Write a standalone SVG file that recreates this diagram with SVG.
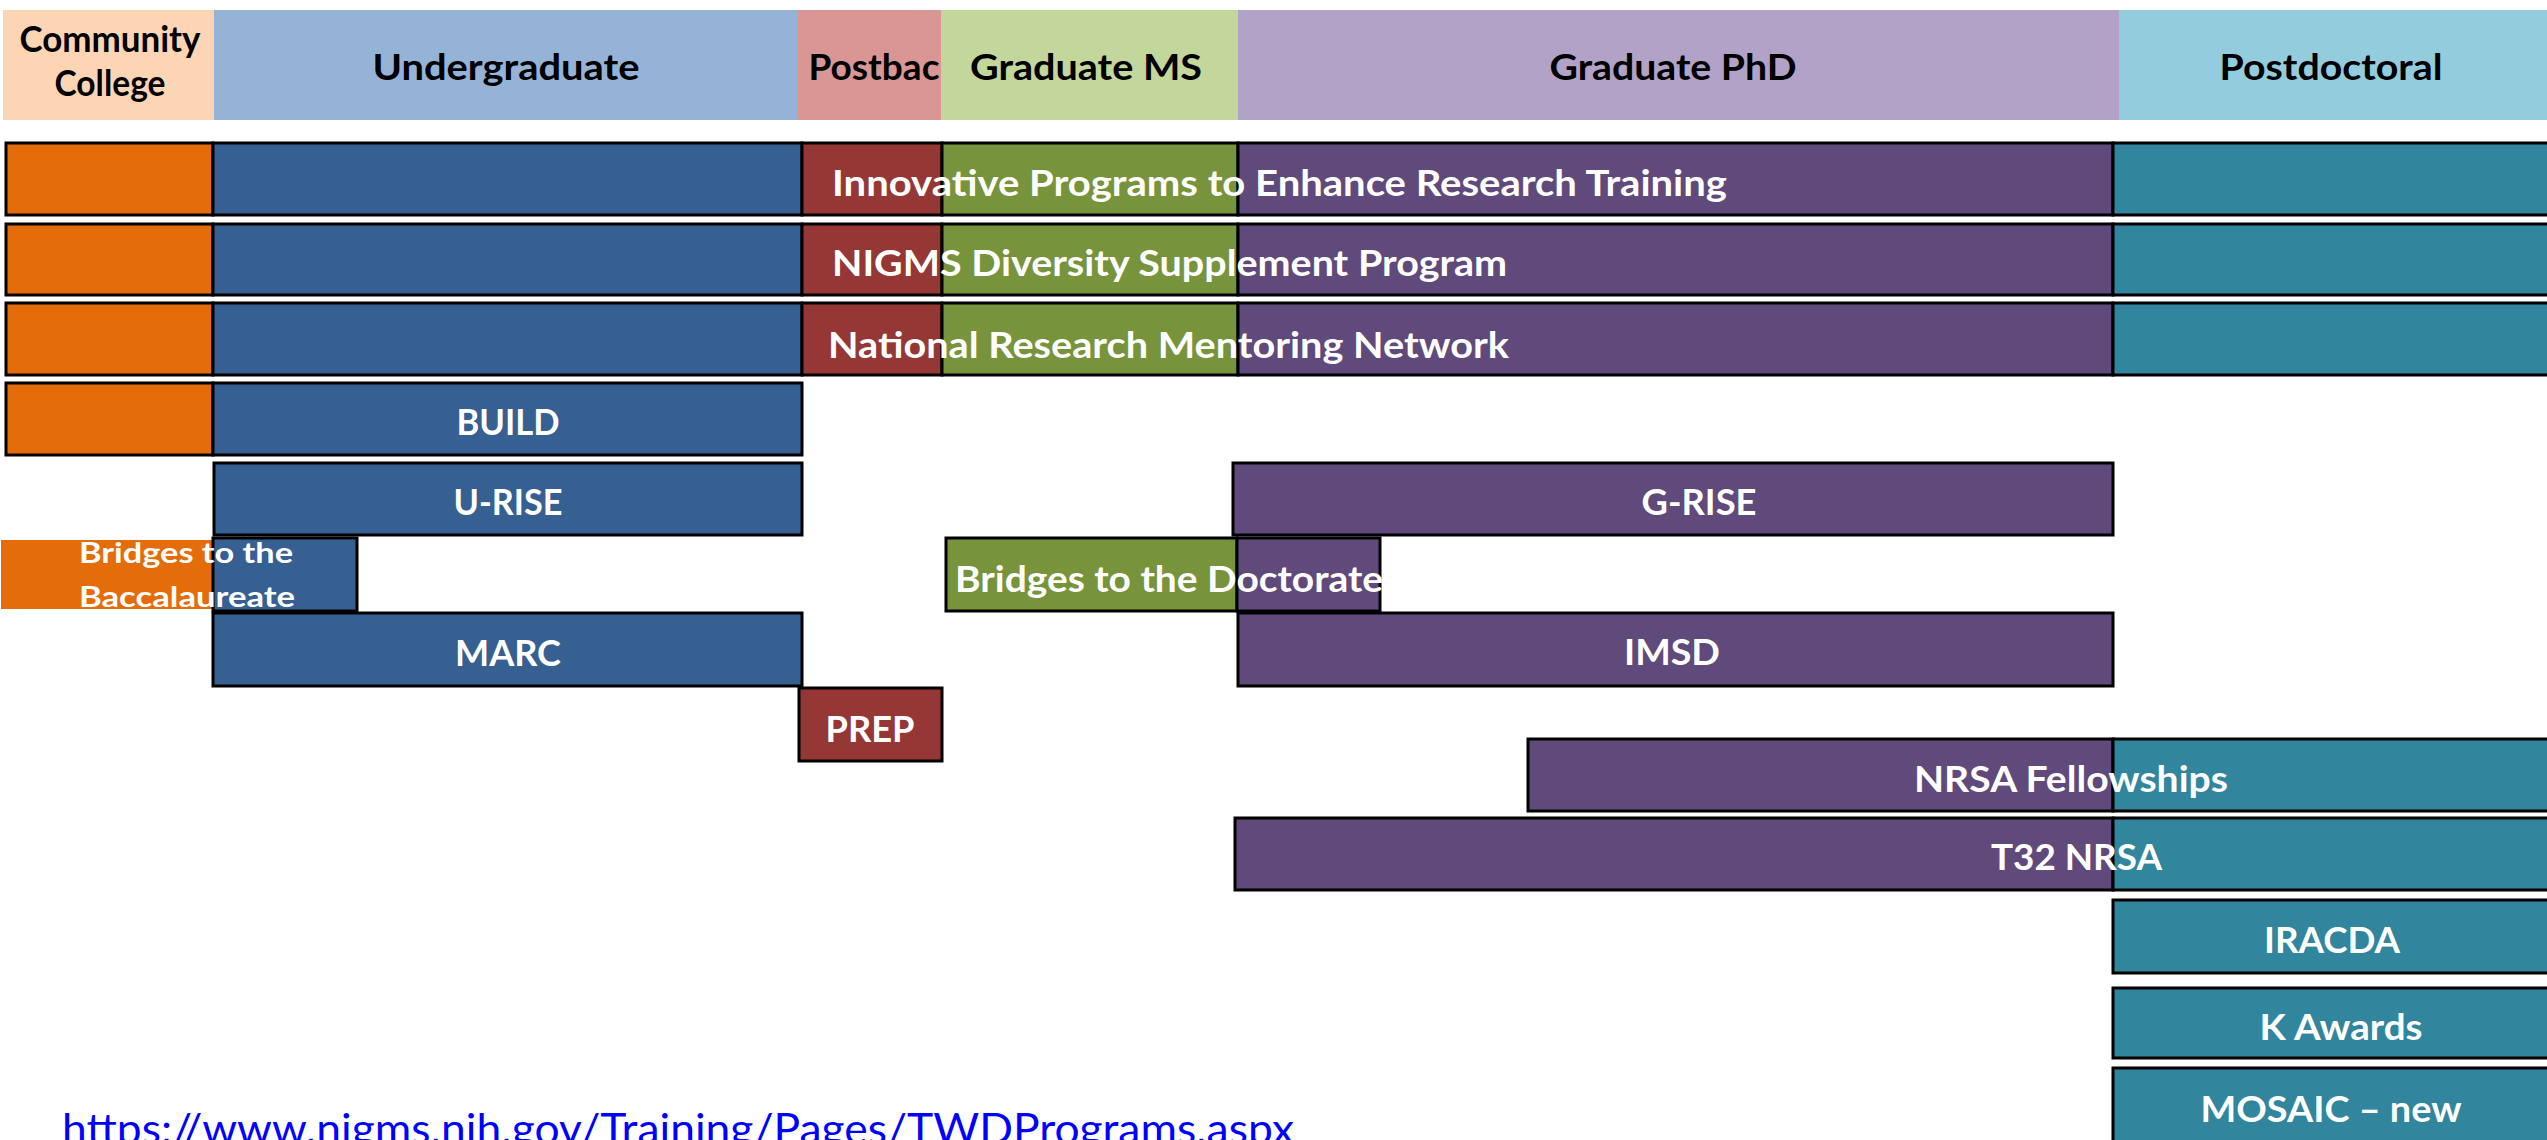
<svg xmlns="http://www.w3.org/2000/svg" width="2547" height="1140" viewBox="0 0 2547 1140">
<style>
.hd{font-family:Lato,"Liberation Sans",sans-serif;font-weight:bold;font-size:37px;fill:#000;text-anchor:middle}
.lb{font-family:Lato,"Liberation Sans",sans-serif;font-weight:bold;font-size:36px;fill:#fff}
.c{text-anchor:middle}
.sm{font-size:28px}
.bar{stroke:#000;stroke-width:3}
.or{fill:#E46C0A}.bl{fill:#376092}.rd{fill:#953735}.gr{fill:#77933C}.pu{fill:#604A7B}.te{fill:#31859C}
.url{font-family:Lato,"Liberation Sans",sans-serif;font-size:42px;fill:#0000FF}
</style>
<rect width="2547" height="1140" fill="#fff"/>
<g id="header">
<g id="h-cc"><rect x="3" y="10" width="211" height="110" fill="#FCD5B5"/><text class="hd" x="110" y="52" textLength="181" lengthAdjust="spacingAndGlyphs">Community</text><text class="hd" x="110" y="96" textLength="111" lengthAdjust="spacingAndGlyphs">College</text></g>
<g id="h-ug"><rect x="214" y="10" width="584" height="110" fill="#95B3D7"/><text class="hd" x="506" y="80" textLength="267" lengthAdjust="spacingAndGlyphs">Undergraduate</text></g>
<g id="h-pb"><rect x="798" y="10" width="143" height="110" fill="#D99694"/><text class="hd" x="874" y="80" textLength="131" lengthAdjust="spacingAndGlyphs">Postbac</text></g>
<g id="h-ms"><rect x="941" y="10" width="297" height="110" fill="#C3D69B"/><text class="hd" x="1086" y="80" textLength="232" lengthAdjust="spacingAndGlyphs">Graduate MS</text></g>
<g id="h-phd"><rect x="1238" y="10" width="881" height="110" fill="#B2A2C7"/><text class="hd" x="1673" y="80" textLength="247" lengthAdjust="spacingAndGlyphs">Graduate PhD</text></g>
<g id="h-pd"><rect x="2119" y="10" width="430" height="110" fill="#93CDDD"/><text class="hd" x="2331" y="80" textLength="223" lengthAdjust="spacingAndGlyphs">Postdoctoral</text></g>
</g>
<g id="innovative">
<rect class="bar or" x="6" y="143" width="207" height="72"/><rect class="bar bl" x="213" y="143" width="589" height="72"/><rect class="bar rd" x="802" y="143" width="140" height="72"/><rect class="bar gr" x="942" y="143" width="296" height="72"/><rect class="bar pu" x="1238" y="143" width="875" height="72"/><rect class="bar te" x="2113" y="143" width="450" height="72"/>
<text class="lb" x="832" y="196" textLength="895" lengthAdjust="spacingAndGlyphs">Innovative Programs to Enhance Research Training</text>
</g>
<g id="nigms">
<rect class="bar or" x="6" y="224" width="207" height="71"/><rect class="bar bl" x="213" y="224" width="589" height="71"/><rect class="bar rd" x="802" y="224" width="140" height="71"/><rect class="bar gr" x="942" y="224" width="296" height="71"/><rect class="bar pu" x="1238" y="224" width="875" height="71"/><rect class="bar te" x="2113" y="224" width="450" height="71"/>
<text class="lb" x="832" y="276" textLength="675" lengthAdjust="spacingAndGlyphs">NIGMS Diversity Supplement Program</text>
</g>
<g id="nrmn">
<rect class="bar or" x="6" y="303" width="207" height="72"/><rect class="bar bl" x="213" y="303" width="589" height="72"/><rect class="bar rd" x="802" y="303" width="140" height="72"/><rect class="bar gr" x="942" y="303" width="296" height="72"/><rect class="bar pu" x="1238" y="303" width="875" height="72"/><rect class="bar te" x="2113" y="303" width="450" height="72"/>
<text class="lb" x="828" y="358" textLength="681" lengthAdjust="spacingAndGlyphs">National Research Mentoring Network</text>
</g>
<g id="build">
<rect class="bar or" x="6" y="383" width="207" height="72"/><rect class="bar bl" x="213" y="383" width="589" height="72"/>
<text class="lb c" x="508" y="435" textLength="103" lengthAdjust="spacingAndGlyphs">BUILD</text>
</g>
<g id="urise">
<rect class="bar bl" x="214" y="463" width="588" height="72"/>
<text class="lb c" x="508" y="515" textLength="109" lengthAdjust="spacingAndGlyphs">U-RISE</text>
</g>
<g id="grise">
<rect class="bar pu" x="1233" y="463" width="880" height="72"/>
<text class="lb c" x="1699" y="515" textLength="115" lengthAdjust="spacingAndGlyphs">G-RISE</text>
</g>
<g id="bridges-bacc">
<rect class="or" x="1" y="540" width="212" height="69"/><rect class="bar bl" x="213" y="538" width="144" height="73"/>
<text class="lb sm" x="79" y="563" textLength="214" lengthAdjust="spacingAndGlyphs">Bridges to the</text>
<text class="lb sm" x="79" y="607" textLength="216" lengthAdjust="spacingAndGlyphs">Baccalaureate</text>
</g>
<g id="bridges-doc">
<rect class="bar gr" x="946" y="538" width="291" height="73"/><rect class="bar pu" x="1237" y="538" width="143" height="73"/>
<text class="lb" x="955" y="592" textLength="428" lengthAdjust="spacingAndGlyphs">Bridges to the Doctorate</text>
</g>
<g id="marc">
<rect class="bar bl" x="213" y="613" width="589" height="73"/>
<text class="lb c" x="508" y="666" textLength="106" lengthAdjust="spacingAndGlyphs">MARC</text>
</g>
<g id="imsd">
<rect class="bar pu" x="1238" y="613" width="875" height="73"/>
<text class="lb c" x="1672" y="665" textLength="96" lengthAdjust="spacingAndGlyphs">IMSD</text>
</g>
<g id="prep">
<rect class="bar rd" x="799" y="688" width="143" height="73"/>
<text class="lb c" x="870" y="742" textLength="89" lengthAdjust="spacingAndGlyphs">PREP</text>
</g>
<g id="nrsa-fellow">
<rect class="bar pu" x="1528" y="739" width="585" height="72"/><rect class="bar te" x="2113" y="739" width="450" height="72"/>
<text class="lb" x="1914" y="792" textLength="314" lengthAdjust="spacingAndGlyphs">NRSA Fellowships</text>
</g>
<g id="t32">
<rect class="bar pu" x="1235" y="818" width="878" height="72"/><rect class="bar te" x="2113" y="818" width="450" height="72"/>
<text class="lb" x="1991" y="870" textLength="171" lengthAdjust="spacingAndGlyphs">T32 NRSA</text>
</g>
<g id="iracda">
<rect class="bar te" x="2113" y="900" width="450" height="73"/>
<text class="lb c" x="2332" y="953" textLength="136" lengthAdjust="spacingAndGlyphs">IRACDA</text>
</g>
<g id="kawards">
<rect class="bar te" x="2113" y="988" width="450" height="70"/>
<text class="lb c" x="2341" y="1040" textLength="163" lengthAdjust="spacingAndGlyphs">K Awards</text>
</g>
<g id="mosaic">
<rect class="bar te" x="2113" y="1068" width="450" height="90"/>
<text class="lb c" x="2331" y="1122" textLength="261" lengthAdjust="spacingAndGlyphs">MOSAIC – new</text>
</g>
<g id="url">
<text class="url" x="62" y="1144" textLength="1232" lengthAdjust="spacingAndGlyphs">https://www.nigms.nih.gov/Training/Pages/TWDPrograms.aspx</text>
</g>
<g id="connectors"/>
</svg>
